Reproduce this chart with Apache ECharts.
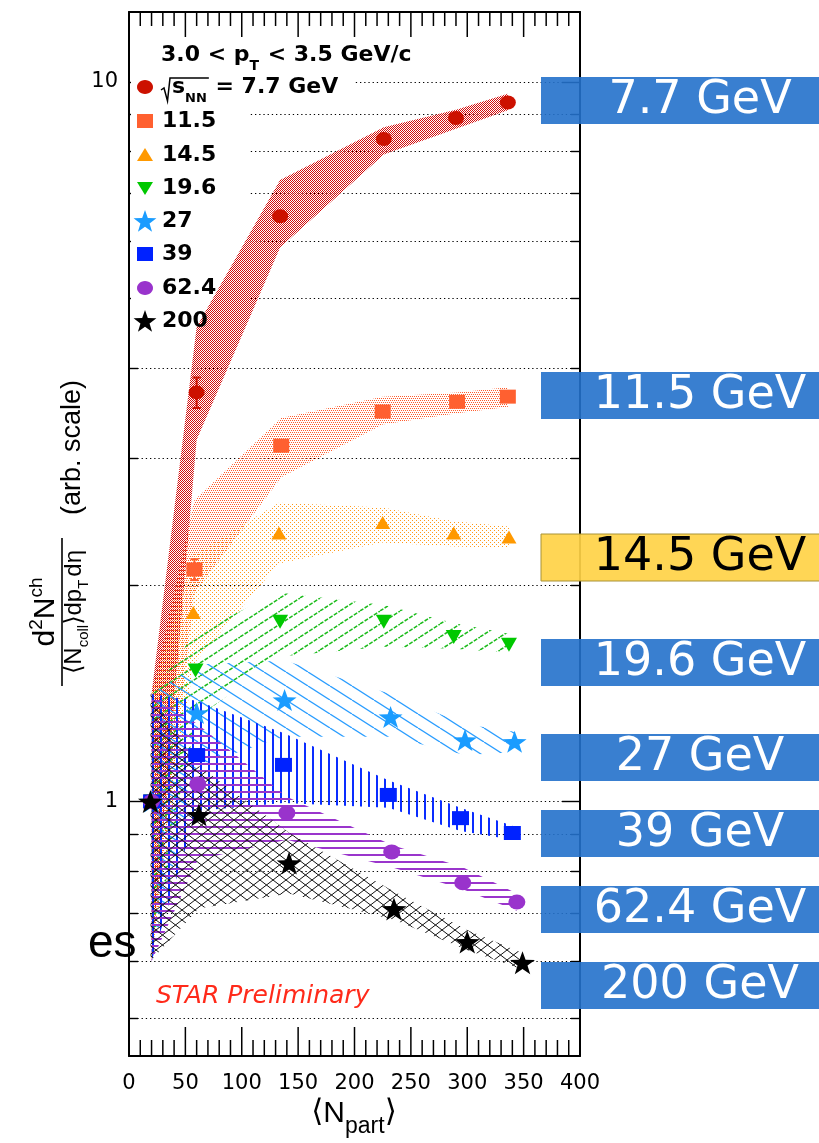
<!DOCTYPE html>
<html>
<head>
<meta charset="utf-8">
<script src="https://cdn.jsdelivr.net/npm/echarts@6/dist/echarts.min.js"></script>
<style>
  html, body { margin: 0; padding: 0; background: #fff; }
  #chart { width: 819px; height: 1143px; }
</style>
</head>
<body>
<div id="chart"></div>
<script>
// Normalized charged-hadron yield per binary collision vs <Npart>, 3.0 < pT < 3.5 GeV/c
const energies = ['7.7', '11.5', '14.5', '19.6', '27', '39', '62.4', '200'];
const boxLabels = ['7.7 GeV', '11.5 GeV', '14.5 GeV', '19.6 GeV', '27 GeV', '39 GeV', '62.4 GeV', '200 GeV'];

const npart77  = [20, 60, 134, 226, 290, 336];
const yield77  = [1.00, 3.70, 6.50, 8.32, 8.90, 9.35];
const hi77     = [1.41, 4.56, 7.30, 8.64, 9.14, 9.62];
const lo77     = [0.60, 3.18, 5.88, 7.92, 8.60, 9.12];
const stat77   = [0, 0.18, 0, 0, 0, 0];

const npart115 = [20, 58, 135, 225, 291, 336];
const yield115 = [1.00, 2.10, 3.12, 3.48, 3.59, 3.65];
const hi115    = [1.41, 2.62, 3.41, 3.65, 3.70, 3.76];
const lo115    = [0.60, 1.95, 2.82, 3.34, 3.46, 3.53];
const stat115  = [0, 0.07, 0, 0, 0, 0];

const npart145 = [20, 57, 133, 225, 288, 337];
const yield145 = [1.00, 1.83, 2.36, 2.44, 2.36, 2.33];
const hi145    = [1.41, 2.20, 2.60, 2.56, 2.45, 2.41];
const lo145    = [0.60, 1.55, 2.14, 2.29, 2.26, 2.25];

const npart196 = [20, 59, 134, 226, 288, 337];
const yield196 = [1.00, 1.52, 1.776, 1.776, 1.692, 1.650];
const hi196    = [1.41, 1.72, 1.95, 1.875, 1.77, 1.71];
const lo196    = [0.60, 1.30, 1.59, 1.64, 1.63, 1.61];

const npart27  = [20, 60, 138, 232, 298, 342];
const yield27  = [1.00, 1.327, 1.383, 1.31, 1.217, 1.21];
const hi27     = [1.41, 1.55, 1.57, 1.41, 1.28, 1.25];
const lo27     = [0.60, 1.12, 1.23, 1.23, 1.16, 1.17];

const npart39  = [20, 60, 137, 230, 294, 340];
const yield39  = [1.00, 1.16, 1.124, 1.021, 0.948, 0.904];
const hi39     = [1.41, 1.38, 1.245, 1.07, 0.98, 0.925];
const lo39     = [0.60, 0.97, 0.995, 0.98, 0.91, 0.885];

const npart624 = [20, 61, 140, 233, 296, 344];
const yield624 = [1.00, 1.057, 0.964, 0.851, 0.771, 0.725];
const hi624    = [1.41, 1.28, 1.015, 0.87, 0.81, 0.745];
const lo624    = [0.60, 0.83, 0.885, 0.81, 0.755, 0.705];

const npart200 = [19, 62, 142, 235, 300, 349];
const yield200 = [1.00, 0.958, 0.821, 0.709, 0.638, 0.597];
const hi200    = [1.41, 1.12, 0.905, 0.75, 0.663, 0.616];
const lo200    = [0.60, 0.71, 0.745, 0.685, 0.622, 0.584];

const xTickLabels = ['0', '50', '100', '150', '200', '250', '300', '350', '400'];
const yTickLabels = ['1', '10'];
const yGridValues = [0.5, 0.6, 0.7, 0.8, 0.9, 1, 2, 3, 4, 5, 6, 7, 8, 9, 10];
const xTickValues = [];
for (let v = 0; v <= 400; v += 10) xTickValues.push(v);

const X_MIN = 0, X_MAX = 400;
const Y_MIN = 0.443, Y_MAX = 12.49;
const FONT = 'DejaVu Sans';
const GRID = { left: 129, right: 239, top: 12, bottom: 87 };
const W = 819, H = 1143;

// ---------- fill patterns for the systematic bands ----------
function tile(w, h, draw) {
  const c = document.createElement('canvas');
  c.width = w; c.height = h;
  const g = c.getContext('2d');
  draw(g, w, h);
  return { image: c, repeat: 'repeat' };
}
function dotTile(w, h, pts, color) {
  return tile(w, h, g => { g.fillStyle = color; pts.forEach(p => g.fillRect(p[0], p[1], 1, 1)); });
}
function slantTile(w, h, color, rising, width, dash) {
  return tile(w, h, g => {
    g.strokeStyle = color; g.lineWidth = width;
    if (dash) g.setLineDash(dash);
    for (let k = -1; k <= 1; k++) {
      g.beginPath();
      if (rising) { g.moveTo(k * w, h); g.lineTo(k * w + w, 0); }
      else { g.moveTo(k * w, 0); g.lineTo(k * w + w, h); }
      g.stroke();
    }
  });
}
const fills = [
  dotTile(2, 2, [[0, 0], [1, 1]], '#d40c0c'),
  dotTile(4, 4, [[0, 0], [2, 0], [1, 2], [3, 2]], '#ff5a2a'),
  dotTile(4, 4, [[0, 0], [2, 2]], '#ff9a1a'),
  slantTile(20, 13, '#1cbc1c', true, 1.5, [4, 1.5]),
  slantTile(22, 14, '#2a9dff', false, 1.3),
  tile(8, 4, g => { g.fillStyle = '#0a2cff'; g.fillRect(0, 0, 2, 4); }),
  tile(4, 7, g => { g.fillStyle = '#9a35cc'; g.fillRect(0, 0, 4, 2); }),
  tile(13, 10, g => {
    g.strokeStyle = '#111'; g.lineWidth = 1;
    for (let k = -1; k <= 1; k++) {
      g.beginPath(); g.moveTo(k * 13, 0); g.lineTo(k * 13 + 13, 10); g.stroke();
      g.beginPath(); g.moveTo(k * 13, 10); g.lineTo(k * 13 + 13, 0); g.stroke();
    }
  })
];

// ---------- marker shapes ----------
function starPath(inner) {
  let d = '';
  for (let k = 0; k < 10; k++) {
    const r = k % 2 ? inner : 1;
    const a = -Math.PI / 2 + k * Math.PI / 5;
    d += (k ? 'L' : 'M') + (r * Math.cos(a)).toFixed(3) + ',' + (r * Math.sin(a)).toFixed(3);
  }
  return d + 'Z';
}
const STAR = 'path://' + starPath(0.4);

const sets = [
  { n: npart77,  y: yield77,  hi: hi77,  lo: lo77,  stat: stat77,  color: '#cc1100', symbol: 'circle',   size: [16, 14], rot: 0 },
  { n: npart115, y: yield115, hi: hi115, lo: lo115, stat: stat115, color: '#ff6030', symbol: 'rect',     size: [16, 14], rot: 0 },
  { n: npart145, y: yield145, hi: hi145, lo: lo145, color: '#ff9900', symbol: 'triangle', size: [15, 13], rot: 0 },
  { n: npart196, y: yield196, hi: hi196, lo: lo196, color: '#00c800', symbol: 'triangle', size: [16, 14], rot: 180 },
  { n: npart27,  y: yield27,  hi: hi27,  lo: lo27,  color: '#1a9cff', symbol: STAR,       size: [24, 22], rot: 0 },
  { n: npart39,  y: yield39,  hi: hi39,  lo: lo39,  color: '#0022ff', symbol: 'rect',     size: [17, 14], rot: 0 },
  { n: npart624, y: yield624, hi: hi624, lo: lo624, color: '#9933cc', symbol: 'circle',   size: [17, 15], rot: 0 },
  { n: npart200, y: yield200, hi: hi200, lo: lo200, color: '#000000', symbol: STAR,       size: [25, 23], rot: 0 }
];

// ---------- series ----------
const series = [];

// dotted grid lines and y-axis tick marks on both sides of the frame
series.push({
  type: 'custom', silent: true, z: 0, clip: false,
  data: yGridValues.map(v => [0, v]),
  renderItem(params, api) {
    const v = api.value(1);
    const cs = params.coordSys;
    const y = Math.round(api.coord([0, v])[1]) + 0.5;
    const major = (v === 1 || v === 10);
    const len = major ? 18 : 9;
    const x0 = cs.x, x1 = cs.x + cs.width;
    return { type: 'group', children: [
      { type: 'line', shape: { x1: x0, y1: y, x2: x1, y2: y }, style: { stroke: '#000', lineWidth: 1, lineDash: [1.3, 2.9] } },
      { type: 'line', shape: { x1: x0, y1: y, x2: x0 + len, y2: y }, style: { stroke: '#000', lineWidth: 1.4 } },
      { type: 'line', shape: { x1: x1 - len, y1: y, x2: x1, y2: y }, style: { stroke: '#000', lineWidth: 1.4 } }
    ]};
  }
});

// systematic bands
sets.forEach((s, i) => {
  series.push({
    type: 'custom', silent: true, z: 3 + i * 0.01, clip: true,
    data: s.n.map((n, k) => [n, s.lo[k], s.hi[k]]),
    renderItem(params, api) {
      if (params.dataIndex !== 0) return;
      const pts = [];
      for (let k = 0; k < s.n.length; k++) pts.push(api.coord([s.n[k], s.hi[k]]));
      for (let k = s.n.length - 1; k >= 0; k--) pts.push(api.coord([s.n[k], s.lo[k]]));
      return { type: 'polygon', shape: { points: pts }, style: { fill: fills[i], stroke: null } };
    }
  });
});

// statistical error bars (drawn as thin filled bars with caps)
sets.forEach(s => {
  if (!s.stat) return;
  series.push({
    type: 'custom', silent: true, z: 5,
    data: s.n.map((n, k) => [n, s.y[k], s.stat[k]]),
    renderItem(params, api) {
      const e = api.value(2);
      if (!e) return;
      const top = api.coord([api.value(0), api.value(1) + e]);
      const bot = api.coord([api.value(0), api.value(1) - e]);
      const st = { fill: s.color };
      return { type: 'group', children: [
        { type: 'rect', shape: { x: top[0] - 1, y: top[1], width: 2, height: bot[1] - top[1] }, style: st },
        { type: 'rect', shape: { x: top[0] - 4, y: top[1] - 1, width: 8, height: 2 }, style: st },
        { type: 'rect', shape: { x: bot[0] - 4, y: bot[1] - 1, width: 8, height: 2 }, style: st }
      ]};
    }
  });
});

// data points
sets.forEach((s, i) => {
  series.push({
    name: energies[i], type: 'scatter', silent: true, z: 6 + i * 0.01,
    symbol: s.symbol, symbolSize: s.size, symbolRotate: s.rot,
    itemStyle: { color: s.color, opacity: 1 },
    data: s.n.map((n, k) => [n, s.y[k]])
  });
});

// ---------- text helpers ----------
const mctx = document.createElement('canvas').getContext('2d');
function fontStr(f) { return `${f.style || 'normal'} ${f.weight || 'normal'} ${f.size}px "${f.family || FONT}"`; }
function textWidth(frags) { let w = 0; frags.forEach(f => { mctx.font = fontStr(f); w += mctx.measureText(f.t).width + (f.gap || 0); }); return w; }
function run(x, base, frags, z, color) {
  const els = []; let cx = x;
  frags.forEach(f => {
    els.push({
      type: 'text', x: cx, y: base + (f.dy || 0) - 0.35 * f.size, z: z, silent: true,
      style: { text: f.t, fill: f.color || color || '#000', fontSize: f.size, fontFamily: f.family || FONT,
               fontWeight: f.weight || 'normal', fontStyle: f.style || 'normal', align: 'left', verticalAlign: 'middle' }
    });
    mctx.font = fontStr(f);
    cx += mctx.measureText(f.t).width + (f.gap || 0);
  });
  return { els, end: cx };
}
function polyPts(cx, cy, path) { return path.map(p => [cx + p[0], cy + p[1]]); }
function ellipsePts(cx, cy, rx, ry) { const a = []; for (let k = 0; k < 28; k++) { const t = k / 28 * Math.PI * 2; a.push([cx + rx * Math.cos(t), cy + ry * Math.sin(t)]); } return a; }
function starPts(cx, cy, rx, ry, inner) { const a = []; for (let k = 0; k < 10; k++) { const r = k % 2 ? inner : 1; const t = -Math.PI / 2 + k * Math.PI / 5; a.push([cx + rx * r * Math.cos(t), cy + ry * r * Math.sin(t)]); } return a; }

const graphics = [];

// legend background
graphics.push({ type: 'rect', z: 1, silent: true, shape: { x: 131, y: 40, width: 224, height: 54 }, style: { fill: '#fff' } });
graphics.push({ type: 'rect', z: 1, silent: true, shape: { x: 131, y: 94, width: 119, height: 242 }, style: { fill: '#fff' } });

// legend header
const B = { size: 22, weight: 'bold' };
graphics.push(...run(161, 63, [
  Object.assign({ t: '3.0 < p' }, B),
  { t: 'T', size: 14, weight: 'bold', dy: 8, gap: 1 },
  Object.assign({ t: ' < 3.5 GeV/c' }, B)
], 10).els);

// legend entries
const rowY = [87, 121, 155, 188, 221, 254, 288, 321];
const MX = 145;
sets.forEach((s, i) => {
  const cy = rowY[i];
  let shape;
  if (s.symbol === 'circle') shape = { type: 'polygon', shape: { points: ellipsePts(MX, cy, 8, 7) } };
  else if (s.symbol === 'rect') shape = { type: 'rect', shape: { x: MX - 8, y: cy - 7, width: 16, height: 14 } };
  else if (s.symbol === 'triangle' && s.rot === 0) shape = { type: 'polygon', shape: { points: polyPts(MX, cy, [[0, -7], [8, 6], [-8, 6]]) } };
  else if (s.symbol === 'triangle') shape = { type: 'polygon', shape: { points: polyPts(MX, cy, [[0, 7], [8, -6], [-8, -6]]) } };
  else shape = { type: 'polygon', shape: { points: starPts(MX, cy + 1, 12, 12, 0.4) } };
  shape.z = 10; shape.silent = true; shape.style = { fill: s.color };
  graphics.push(shape);
  if (i === 0) {
    const r1 = run(172, cy + 8, [
      Object.assign({ t: 's' }, B),
      { t: 'NN', size: 13, weight: 'bold', dy: 8, gap: 1 }
    ], 10);
    graphics.push(...r1.els);
    graphics.push({ type: 'polyline', z: 10, silent: true,
      shape: { points: [[161, cy + 3], [164, cy + 1], [167.5, cy + 14], [170, cy - 9], [r1.end + 1, cy - 9]] },
      style: { stroke: '#000', lineWidth: 1.5, fill: null } });
    graphics.push(...run(r1.end, cy + 8, [Object.assign({ t: ' = ' + energies[0] + ' GeV' }, B)], 10).els);
  } else {
    graphics.push(...run(162, cy + 8, [Object.assign({ t: energies[i] }, B)], 10).els);
  }
});

// preliminary tag
graphics.push(...run(156, 1005, [{ t: 'STAR Preliminary', size: 25, style: 'italic', color: '#ff2a1a' }], 10).els);

// x-axis title
{
  const fr = [
    { t: '\u27E8', size: 31 }, { t: 'N', size: 30, family: 'Liberation Sans' },
    { t: 'part', size: 23, dy: 11, family: 'Liberation Sans' }, { t: '\u27E9', size: 31 }
  ];
  const w = textWidth(fr);
  graphics.push(...run(354 - w / 2, 1124, fr, 10).els);
}

// y-axis title, rotated to read bottom to top
{
  const kids = [];
  const L = 148;
  kids.push({ type: 'rect', z: 10, silent: true, shape: { x: 0, y: -0.8, width: L, height: 1.6 }, style: { fill: '#000' } });
  const num = [
    { t: 'd', size: 30, family: 'Liberation Sans' }, { t: '2', size: 19, dy: -13, family: 'Liberation Sans' },
    { t: 'N', size: 30, family: 'Liberation Sans' }, { t: 'ch', size: 19, dy: -13, family: 'Liberation Sans' }
  ];
  kids.push(...run(L / 2 - textWidth(num) / 2, -6, num, 10).els);
  const den = [
    { t: '\u27E8', size: 24 }, { t: 'N', size: 24, family: 'Liberation Sans' },
    { t: 'coll', size: 15, dy: 6, family: 'Liberation Sans' }, { t: '\u27E9', size: 24 },
    { t: 'dp', size: 24, family: 'Liberation Sans' }, { t: 'T', size: 15, dy: 6, gap: 3, family: 'Liberation Sans' },
    { t: 'd\u03B7', size: 24, family: 'Liberation Sans' }
  ];
  kids.push(...run(L / 2 - textWidth(den) / 2, 21, den, 10).els);
  kids.push(...run(L + 23, 20, [{ t: '(arb. scale)', size: 27, family: 'Liberation Sans' }], 10).els);
  graphics.push({ type: 'group', x: 62, y: 686, rotation: Math.PI / 2, z: 10, children: kids });
}

// stray caption fragment at the left edge
graphics.push(...run(88, 960, [{ t: 'es', size: 46, family: 'Liberation Sans' }], 10).els);

// energy tags on the right
const boxTop = [77, 372, 534, 639, 734, 810, 886, 962];
boxLabels.forEach((lab, i) => {
  const hl = lab === '14.5 GeV';
  graphics.push({ type: 'rect', z: 20, silent: true, shape: { x: 541, y: boxTop[i], width: 300, height: 47 },
    style: hl ? { fill: 'rgba(255,211,70,0.92)', stroke: '#a89236', lineWidth: 1 } : { fill: 'rgba(36,113,203,0.9)' } });
  graphics.push({ type: 'text', z: 21, silent: true, x: 700, y: boxTop[i] + 24,
    style: { text: lab, fill: hl ? '#000' : '#fff', fontSize: 46, fontFamily: FONT, align: 'center', verticalAlign: 'middle' } });
});

// ---------- chart ----------
const chart = echarts.init(document.getElementById('chart'), null, { renderer: 'canvas', width: W, height: H });
const axisLine = { show: true, onZero: false, lineStyle: { color: '#000', width: 2 } };
chart.setOption({
  animation: false,
  backgroundColor: '#fff',
  grid: Object.assign({ containLabel: false }, GRID),
  xAxis: [
    {
      type: 'value', min: X_MIN, max: X_MAX, interval: 50, position: 'bottom',
      axisLine, splitLine: { show: false }, axisTick: { show: false }, minorTick: { show: false },
      axisLabel: { show: true, margin: 17, color: '#000', fontSize: 21, fontFamily: FONT,
                   formatter: v => xTickLabels[Math.round(v / 50)] }
    },
    {
      type: 'value', min: X_MIN, max: X_MAX, interval: 50, position: 'top',
      axisLine, splitLine: { show: false }, axisTick: { show: false }, axisLabel: { show: false }
    }
  ],
  yAxis: [
    {
      type: 'log', logBase: 10, min: Y_MIN, max: Y_MAX, position: 'left',
      axisLine, axisTick: { show: false }, splitLine: { show: false }, minorTick: { show: false },
      axisLabel: { show: true, margin: 11, color: '#000', fontSize: 21, fontFamily: FONT,
                   showMinLabel: false, showMaxLabel: false,
                   formatter: v => { const t = String(Math.round(v)); return (Math.abs(v - Math.round(v)) < 1e-6 && yTickLabels.includes(t)) ? t : ''; } }
    },
    {
      type: 'log', logBase: 10, min: Y_MIN, max: Y_MAX, position: 'right',
      axisLine, axisTick: { show: false }, splitLine: { show: false }, axisLabel: { show: false }
    }
  ],
  series: series
});

// x-axis tick marks on the bottom and top edges, positioned through the x scale
const yBottom = H - GRID.bottom, yTop = GRID.top;
const plotW = W - GRID.left - GRID.right;
xTickValues.forEach(v => {
  let x = chart.convertToPixel({ gridIndex: 0 }, [v, 1]);
  x = Array.isArray(x) ? x[0] : x;
  if (!isFinite(x)) x = GRID.left + (v - X_MIN) / (X_MAX - X_MIN) * plotW;
  const major = v % 50 === 0;
  const lb = major ? 29 : 16, lt = major ? 25 : 14;
  graphics.push({ type: 'rect', z: 2, silent: true, shape: { x: x - 0.75, y: yBottom - lb, width: 1.5, height: lb }, style: { fill: '#000' } });
  graphics.push({ type: 'rect', z: 2, silent: true, shape: { x: x - 0.75, y: yTop, width: 1.5, height: lt }, style: { fill: '#000' } });
});

chart.setOption({ graphic: { elements: graphics } });
</script>
</body>
</html>
